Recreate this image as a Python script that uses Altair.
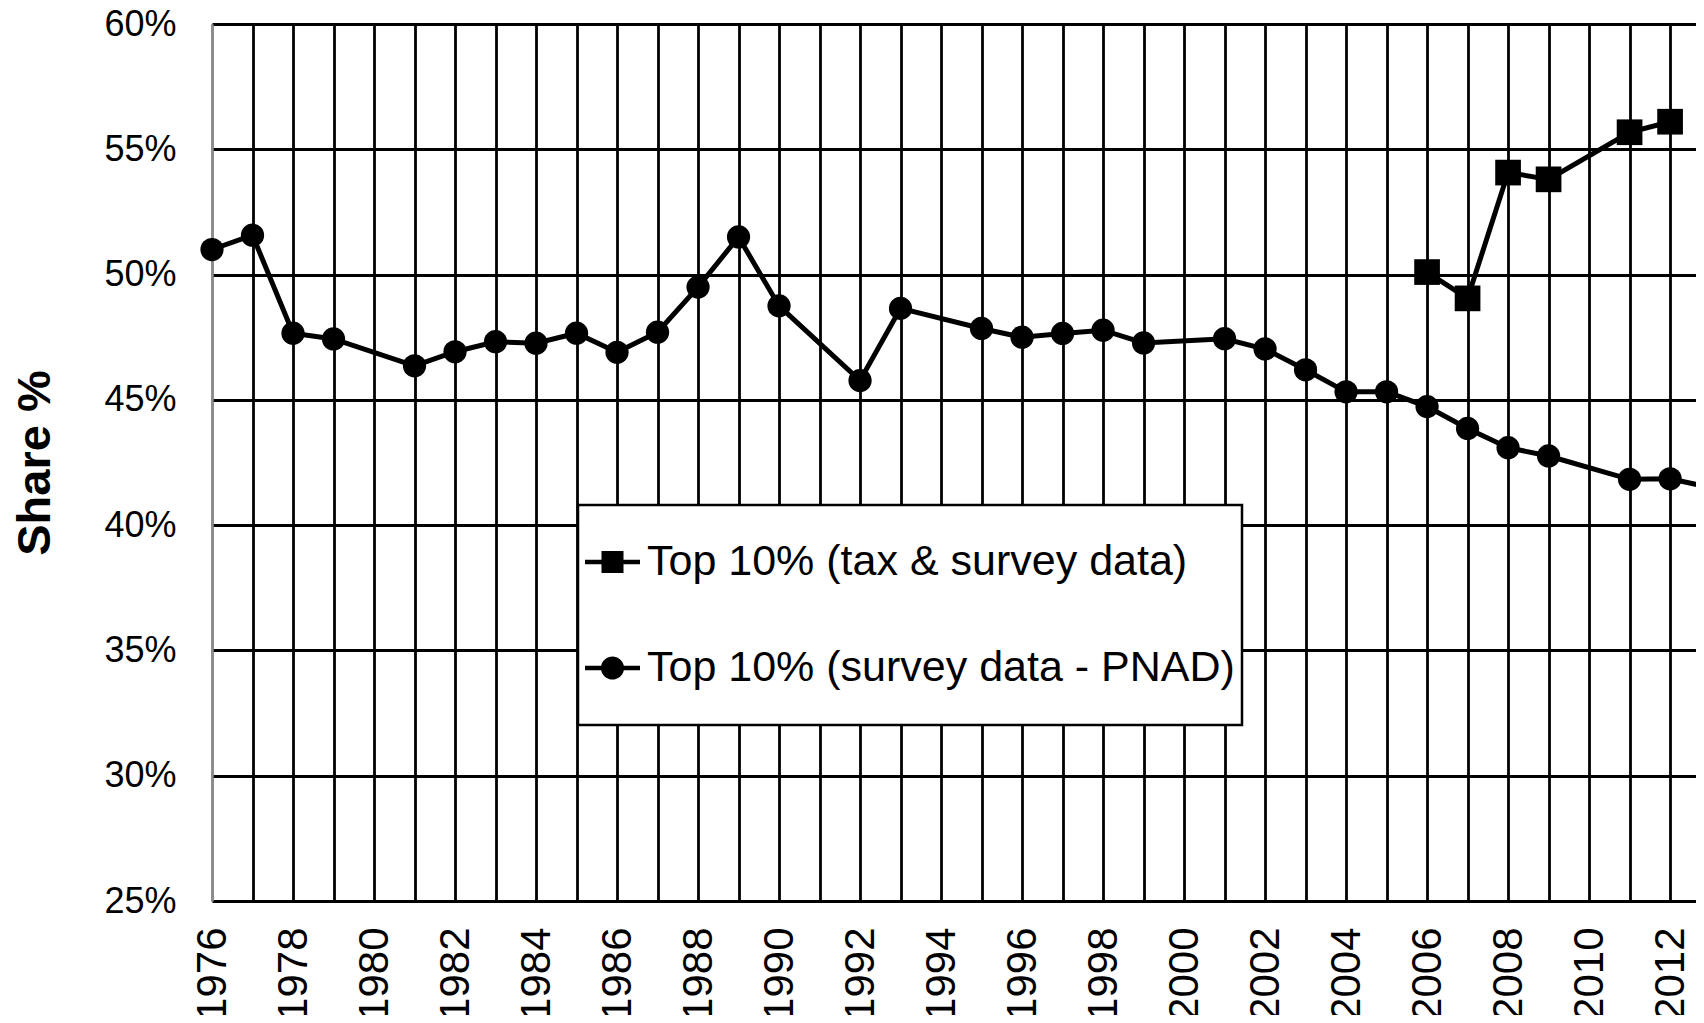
import altair as alt
import pandas as pd

# ---- data ----
series_names = ["Top 10% (tax & survey data)", "Top 10% (survey data - PNAD)"]

pnad_years = [1976, 1977, 1978, 1979, 1981, 1982, 1983, 1984, 1985, 1986, 1987, 1988,
              1989, 1990, 1992, 1993, 1995, 1996, 1997, 1998, 1999, 2001, 2002, 2003,
              2004, 2005, 2006, 2007, 2008, 2009, 2011, 2012, 2013]
pnad_values = [51.0, 51.57, 47.66, 47.43, 46.36, 46.92, 47.32, 47.26, 47.66, 46.9, 47.7, 49.5,
               51.5, 48.75, 45.77, 48.65, 47.85, 47.5, 47.65, 47.78, 47.27, 47.44, 47.03, 46.2,
               45.32, 45.32, 44.73, 43.86, 43.09, 42.76, 41.83, 41.85, 41.5]

tax_years = [2006, 2007, 2008, 2009, 2011, 2012]
tax_values = [50.1, 49.05, 54.07, 53.8, 55.68, 56.1]

y_ticks = [25, 30, 35, 40, 45, 50, 55, 60]
x_grid_years = list(range(1976, 2013))

df = pd.concat([
    pd.DataFrame({"year": tax_years, "value": tax_values, "series": series_names[0]}),
    pd.DataFrame({"year": pnad_years, "value": pnad_values, "series": series_names[1]}),
], ignore_index=True)

FONT = "Liberation Sans"

x_enc = alt.X(
    "year:Q",
    scale=alt.Scale(domain=[1976, 2012.64], nice=False, zero=False),
    axis=alt.Axis(
        values=x_grid_years, format="d",
        labelExpr="datum.value % 2 == 0 ? datum.label : ''",
        labelAngle=270, labelFontSize=42, labelFont=FONT, labelColor="black",
        labelPadding=26, labelFlush=False, labelOverlap=False,
        ticks=False, domain=False,
        grid=True,
        gridColor={"condition": {"test": "datum.value === 1976", "value": "#8c8c8c"}, "value": "black"},
        gridWidth=2.8, title=None,
    ),
)

y_enc = alt.Y(
    "value:Q",
    scale=alt.Scale(domain=[25, 60], nice=False, zero=False),
    axis=alt.Axis(
        values=y_ticks, labelExpr="datum.value + '%'",
        labelFontSize=36, labelFont=FONT, labelColor="black", labelPadding=36,
        labelFlush=False, ticks=False,
        domain=True, domainColor="#8c8c8c", domainWidth=2.5,
        grid=True, gridColor="black", gridWidth=3,
        title="Share %", titleFont=FONT, titleFontSize=47, titleFontWeight="bold",
        titleColor="black", titleAngle=270, titleX=-177, titleY=438.5,
        titleAlign="center", titleBaseline="middle",
    ),
)

lines = alt.Chart(df).mark_line(color="black", strokeWidth=5).encode(
    x=x_enc, y=y_enc, detail="series:N"
)

points = alt.Chart(df).mark_point(filled=True, color="black", opacity=1).encode(
    x=x_enc, y=y_enc,
    shape=alt.Shape("series:N", scale=alt.Scale(domain=series_names, range=["square", "circle"]), legend=None),
    size=alt.Size("series:N", scale=alt.Scale(domain=series_names, range=[660, 540]), legend=None),
)

square_line = "M-1,-0.08H-0.4V-0.4H0.4V-0.08H1V0.08H0.4V0.4H-0.4V0.08H-1Z"
circle_line = ("M-1,-0.08H-0.412A0.42,0.42 0 0 1 0.412,-0.08H1V0.08H0.412"
               "A0.42,0.42 0 0 1 -0.412,0.08H-1Z")

legend_layer = alt.Chart(df).mark_point(filled=True, color="black", opacity=1).encode(
    x=x_enc, y=y_enc,
    shape=alt.Shape(
        "series:N",
        scale=alt.Scale(domain=series_names, range=[square_line, circle_line]),
        legend=alt.Legend(
            orient="none", legendX=366, legendY=481, title=None, direction="vertical",
            labelFont=FONT, labelFontSize=43, labelColor="black", labelLimit=1000,
            labelOffset=7, padding=7, rowPadding=6, clipHeight=100,
            fillColor="white", strokeColor="black",
            symbolSize=3025, symbolStrokeWidth=0,
            symbolFillColor="black", symbolStrokeColor="black",
        ),
    ),
).transform_filter("false")

chart = alt.layer(lines, points, legend_layer).resolve_scale(
    shape="independent"
).properties(
    width=1484, height=877,
    autosize=alt.AutoSizeParams(type="none"),
    padding={"left": 204, "top": 16, "right": 0, "bottom": 114},
    background="white",
).configure_view(stroke=None).configure_legend(strokeWidth=2.5)

chart.save("out.html", embed_options={"renderer": "svg", "actions": False})
